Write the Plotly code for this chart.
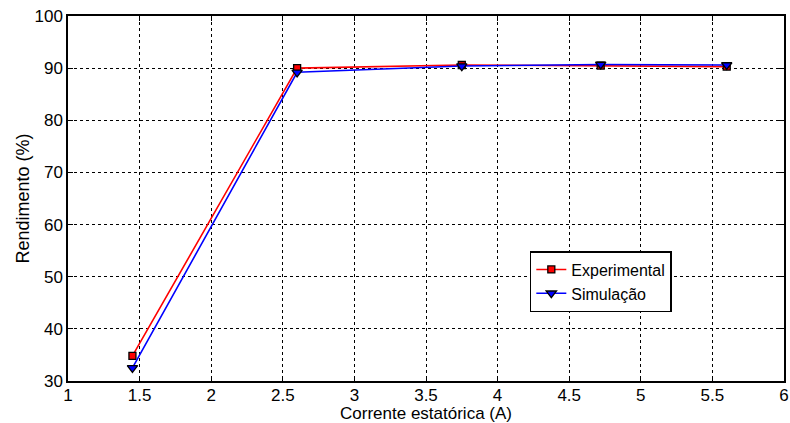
import plotly.graph_objects as go

corrente = [1.45, 2.60, 3.75, 4.72, 5.60]
experimental = [34.8, 90.0, 90.6, 90.5, 90.3]
simulacao = [32.5, 89.2, 90.4, 90.7, 90.6]

x_ticks = [1, 1.5, 2, 2.5, 3, 3.5, 4, 4.5, 5, 5.5, 6]
x_tick_labels = ["1", "1.5", "2", "2.5", "3", "3.5", "4", "4.5", "5", "5.5", "6"]
y_ticks = [30, 40, 50, 60, 70, 80, 90, 100]

fig = go.Figure()
fig.add_trace(go.Scatter(
    x=corrente, y=experimental, name="Experimental", mode="lines+markers",
    line=dict(color="#ff0000", width=1.6),
    marker=dict(symbol="square", size=7, color="#ff0000", line=dict(color="black", width=1.3)),
))
fig.add_trace(go.Scatter(
    x=corrente, y=simulacao, name="Simulação", mode="lines+markers",
    line=dict(color="#0000ff", width=1.6),
    marker=dict(symbol="triangle-down", size=9, color="#0000ff", line=dict(color="black", width=1.3)),
))

axis_common = dict(
    showline=True, linecolor="black", linewidth=1.5, mirror="ticks",
    ticks="inside", ticklen=5, tickcolor="black", tickwidth=1,
    showgrid=True, gridcolor="black", griddash="dot", gridwidth=1,
    zeroline=False, ticklabeloverflow="allow",
    tickfont=dict(family="Liberation Sans, Arial", size=17, color="black"),
)

fig.update_layout(
    width=790, height=423,
    margin=dict(l=68, r=6, t=16, b=42, autoexpand=False),
    paper_bgcolor="white", plot_bgcolor="white",
    font=dict(family="Liberation Sans, Arial", color="black"),
    xaxis=dict(range=[1, 6], tickvals=x_ticks, ticktext=x_tick_labels,
               ticklabelstandoff=-2,
               title=dict(text="Corrente estatórica (A)", font=dict(size=17), standoff=2),
               **axis_common),
    yaxis=dict(range=[30, 100], tickvals=y_ticks,
               title=dict(text="Rendimento (%)", font=dict(size=18), standoff=0),
               **axis_common),
    legend=dict(x=0.645, y=0.356, xanchor="left", yanchor="top",
                bgcolor="white", bordercolor="black", borderwidth=1.5,
                font=dict(size=16, color="black"), tracegroupgap=0,
                itemwidth=30),
    showlegend=True,
)

fig.write_html("out.html", config={"displayModeBar": False},
               post_script="document.body.style.margin='0';document.body.style.padding='0';")
